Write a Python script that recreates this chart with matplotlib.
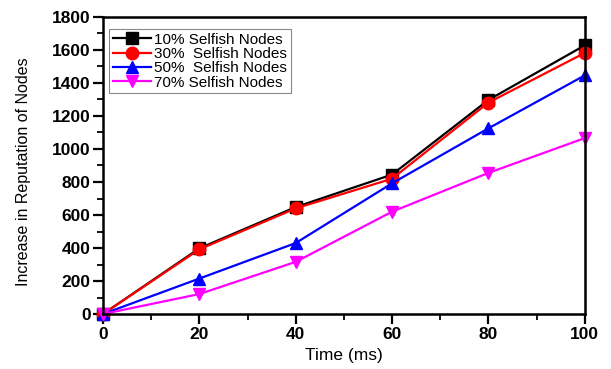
import matplotlib
matplotlib.use("Agg")
import matplotlib.pyplot as plt
from matplotlib.ticker import MultipleLocator

plt.rcParams['font.family'] = ['Liberation Sans', 'DejaVu Sans']

# Data
time_ms = [0, 20, 40, 60, 80, 100]
selfish_10 = [0, 398, 648, 845, 1297, 1628]
selfish_30 = [0, 392, 640, 820, 1281, 1582]
selfish_50 = [0, 215, 430, 792, 1125, 1446]
selfish_70 = [0, 121, 316, 620, 855, 1066]

labels = ['10% Selfish Nodes', '30%  Selfish Nodes', '50%  Selfish Nodes', '70% Selfish Nodes']
colors = ['black', 'red', 'blue', 'magenta']
markers = ['s', 'o', '^', 'v']

fig = plt.figure(figsize=(6.11, 3.69), dpi=100)
ax = fig.add_axes([0.1686, 0.149, 0.7884, 0.805])

for ys, lab, c, m in zip([selfish_10, selfish_30, selfish_50, selfish_70], labels, colors, markers):
    ax.plot(time_ms, ys, color=c, marker=m, markersize=9, linewidth=1.6,
            label=lab, clip_on=False)

ax.set_xlim(0, 100)
ax.set_ylim(0, 1800)
ax.xaxis.set_major_locator(MultipleLocator(20))
ax.xaxis.set_minor_locator(MultipleLocator(10))
ax.yaxis.set_major_locator(MultipleLocator(200))
ax.yaxis.set_minor_locator(MultipleLocator(100))
ax.tick_params(which='major', direction='out', length=7, width=1.6, labelsize=12.5, pad=2)
ax.tick_params(which='minor', direction='out', length=4, width=1.3)
for lbl in ax.get_xticklabels() + ax.get_yticklabels():
    lbl.set_fontweight('bold')
for sp in ax.spines.values():
    sp.set_linewidth(1.8)

ax.set_xlabel('Time (ms)', fontsize=12.5)
ax.set_ylabel('Increase in Reputation of Nodes', fontsize=11.5)
ax.xaxis.set_label_coords(0.5, -0.115)
ax.yaxis.set_label_coords(-0.15, 0.48)

leg = ax.legend(loc='upper left', bbox_to_anchor=(0.012, 0.96), fontsize=11,
                handlelength=2.5, borderpad=0.25, labelspacing=0.02,
                handletextpad=0.2, borderaxespad=0, fancybox=False, framealpha=1)
leg.get_frame().set_edgecolor('#888888')
leg.get_frame().set_linewidth(0.8)

fig.savefig('out.png', dpi=100)
